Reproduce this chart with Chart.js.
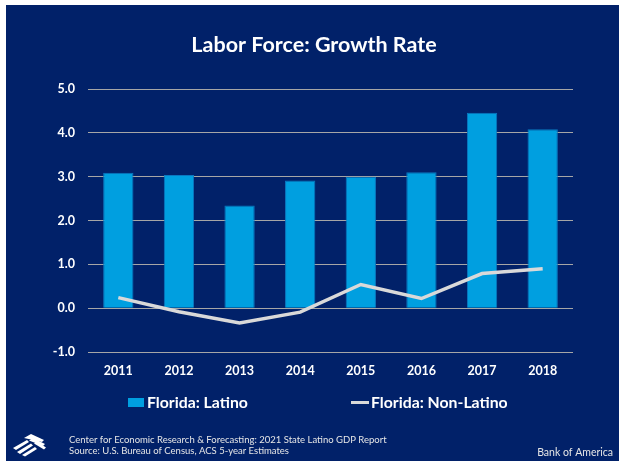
<!DOCTYPE html>
<html>
<head>
<meta charset="utf-8">
<script src="https://cdn.jsdelivr.net/npm/chart.js@4"></script>
<style>
  html, body { margin: 0; padding: 0; background: #fff; }
  #wrap { width: 619px; height: 463px; }
</style>
</head>
<body>
<div id="wrap"><canvas id="myChart" width="619" height="463"></canvas></div>
<script>
const years = ["2011", "2012", "2013", "2014", "2015", "2016", "2017", "2018"];
const latino = [3.09, 3.04, 2.34, 2.91, 3.0, 3.1, 4.46, 4.08];
const nonLatino = [0.24, -0.08, -0.34, -0.09, 0.54, 0.22, 0.79, 0.90];
const yMin = -1;
const yMax = 5;

const NAVY = "#012169";
const BAR = "#009fe0";
const LINE = "#d9d9d9";
const FONT = "Lato, 'Open Sans', sans-serif";

function stripe(ctx, pts) {
  ctx.beginPath();
  ctx.moveTo(pts[0][0], pts[0][1]);
  for (let i = 1; i < pts.length; i++) ctx.lineTo(pts[i][0], pts[i][1]);
  ctx.closePath();
  ctx.fill();
}

const decor = {
  id: "decor",
  beforeDraw(chart) {
    const ctx = chart.ctx;
    ctx.save();
    ctx.fillStyle = "#fff";
    ctx.fillRect(0, 0, chart.width, chart.height);
    ctx.fillStyle = NAVY;
    ctx.fillRect(6, 5, 613, 456);
    ctx.restore();
  },
  afterDraw(chart) {
    const ctx = chart.ctx;
    ctx.save();
    // title
    ctx.fillStyle = "#fff";
    ctx.font = "bold 21.5px " + FONT;
    ctx.textAlign = "center";
    ctx.textBaseline = "alphabetic";
    ctx.fillText("Labor Force: Growth Rate", 314, 52);

    // legend
    ctx.textAlign = "left";
    ctx.textBaseline = "middle";
    ctx.font = "bold 15.8px " + FONT;
    ctx.fillStyle = BAR;
    ctx.fillRect(128, 398, 16, 9);
    ctx.fillStyle = "#fff";
    ctx.fillText("Florida: Latino", 147, 402.5);
    ctx.strokeStyle = LINE;
    ctx.lineWidth = 3;
    ctx.beginPath();
    ctx.moveTo(351, 402.5);
    ctx.lineTo(369, 402.5);
    ctx.stroke();
    ctx.fillText("Florida: Non-Latino", 371, 402.5);

    // footer
    ctx.fillStyle = "#e6e6e6";
    ctx.font = "9.5px " + FONT;
    ctx.fillText("Center for Economic Research & Forecasting: 2021 State Latino GDP Report", 69, 440);
    ctx.fillText("Source: U.S. Bureau of Census, ACS 5-year Estimates", 69, 451);
    ctx.textAlign = "right";
    ctx.font = "10.5px " + FONT;
    ctx.fillText("Bank of America", 613, 453);

    // flag logo
    ctx.fillStyle = "#fff";
    // lower-left stripes rising to the right
    stripe(ctx, [[13, 448], [27, 440], [29, 442], [16, 450]]);
    stripe(ctx, [[17, 452], [31, 443.5], [33, 445.5], [20, 454]]);
    stripe(ctx, [[22, 455], [35, 447], [37, 449], [25, 456.5]]);
    // upper stripes sweeping to the right
    stripe(ctx, [[24, 438], [31, 434], [44, 440], [42, 442]]);
    stripe(ctx, [[29, 440.5], [33, 438], [45, 444], [43, 446]]);
    stripe(ctx, [[34, 443.5], [37, 441.5], [46, 447.5], [44, 449.5]]);
    ctx.restore();
  },
};

const ctx = document.getElementById("myChart");
new Chart(ctx, {
  data: {
    labels: years,
    datasets: [
      {
        type: "line",
        label: "Florida: Non-Latino",
        data: nonLatino,
        borderColor: LINE,
        borderWidth: 3.5,
        pointRadius: 0,
        tension: 0,
        order: 0,
      },
      {
        type: "bar",
        label: "Florida: Latino",
        data: latino,
        backgroundColor: BAR,
        borderColor: "#0a78c0",
        borderWidth: 1,
        categoryPercentage: 1,
        barPercentage: 0.5,
        order: 1,
      },
    ],
  },
  options: {
    responsive: false,
    animation: false,
    layout: { padding: { top: 89, right: 46, left: 0, bottom: 0 } },
    plugins: {
      legend: { display: false },
      title: { display: false },
      tooltip: { enabled: false },
    },
    scales: {
      x: {
        grid: { display: false },
        border: { display: false },
        ticks: {
          color: "#fff",
          font: { family: FONT, size: 12.5, weight: "bold" },
          padding: 3,
        },
        afterFit(scale) { scale.height = 111; },
      },
      y: {
        min: yMin,
        max: yMax,
        grid: { color: "#a6a6a6", lineWidth: 1, drawTicks: false },
        border: { display: false },
        ticks: {
          stepSize: 1,
          color: "#fff",
          padding: 13,
          font: { family: FONT, size: 12.5, weight: "bold" },
          callback: (v) => Number(v).toFixed(1),
        },
        afterFit(scale) { scale.width = 88; },
      },
    },
  },
  plugins: [decor],
});
</script>
</body>
</html>
